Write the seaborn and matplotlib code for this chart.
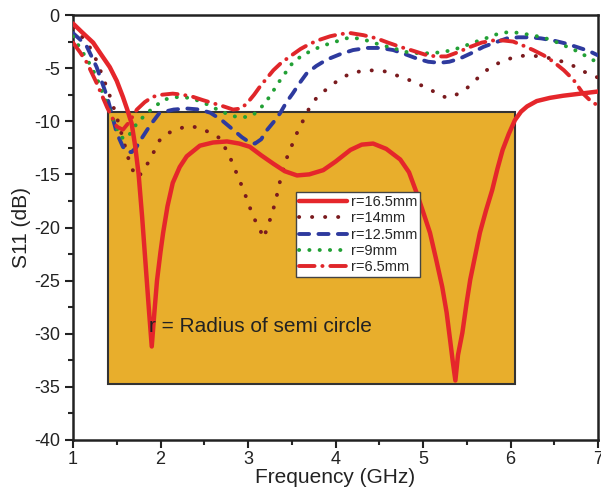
import matplotlib
matplotlib.use("Agg")
import matplotlib.pyplot as plt
import seaborn as sns
from matplotlib.patches import Rectangle

sns.set_theme(style="white")
plt.rcParams['font.family'] = ['Liberation Sans', 'DejaVu Sans']
plt.rcParams['axes.unicode_minus'] = False

# r = 16.5 mm (solid red)
f_165 = [1.00, 1.10, 1.23, 1.32, 1.42, 1.50, 1.57, 1.62, 1.67, 1.71, 1.75, 1.79, 1.83, 1.87, 1.90,
         1.93, 1.96, 2.00, 2.03, 2.08, 2.14, 2.22, 2.30, 2.45, 2.60, 2.76, 2.90, 3.02, 3.15, 3.29,
         3.42, 3.56, 3.70, 3.86, 4.00, 4.17, 4.30, 4.43, 4.58, 4.74, 4.84, 4.93, 5.00, 5.08, 5.15,
         5.22, 5.27, 5.31, 5.34, 5.37, 5.40, 5.45, 5.50, 5.54, 5.60, 5.65, 5.72, 5.79, 5.85, 5.91,
         5.98, 6.05, 6.12, 6.19, 6.30, 6.45, 6.60, 6.80, 7.00]
s_165 = [-0.8, -1.6, -2.6, -3.7, -4.9, -6.2, -7.7, -8.9, -10.2, -12.3, -15.0, -19.0, -23.5, -28.0, -31.2,
         -28.0, -25.0, -22.3, -20.5, -18.0, -15.8, -14.3, -13.3, -12.3, -12.0, -11.9, -12.1, -12.4, -13.2, -14.0,
         -14.7, -15.1, -15.0, -14.6, -13.8, -12.7, -12.2, -12.1, -12.6, -13.6, -14.8, -16.8, -18.5, -20.5, -23.0,
         -25.6, -28.0, -30.6, -32.6, -34.4, -32.0, -29.9, -27.0, -24.9, -22.5, -20.5, -18.4, -16.5, -14.5, -12.7,
         -11.2, -9.9, -9.1, -8.6, -8.1, -7.8, -7.6, -7.4, -7.2]

# r = 14 mm (maroon dotted)
f_14 = [1.00, 1.05, 1.12, 1.19, 1.27, 1.34, 1.42, 1.50, 1.58, 1.65, 1.70, 1.74, 1.80, 1.88, 1.99,
        2.09, 2.19, 2.28, 2.37, 2.47, 2.57, 2.68, 2.79, 2.87, 2.94, 2.99, 3.06, 3.14, 3.17, 3.20,
        3.25, 3.31, 3.37, 3.45, 3.56, 3.71, 3.82, 3.90, 4.05, 4.20, 4.39, 4.56, 4.74, 4.90, 5.05,
        5.17, 5.27, 5.38, 5.50, 5.63, 5.77, 5.92, 6.07, 6.20, 6.34, 6.47, 6.60, 6.72, 6.83, 6.92, 7.00]
s_14 = [-1.2, -1.6, -2.2, -3.0, -4.3, -5.8, -7.6, -9.6, -11.9, -14.0, -14.9, -15.3, -14.7, -13.6, -11.8,
        -11.1, -10.8, -10.5, -10.5, -10.7, -11.1, -11.6, -13.3, -14.9, -16.3, -17.4, -19.0, -20.2, -21.0, -20.5,
        -19.3, -17.7, -15.5, -13.3, -11.1, -8.6, -7.4, -7.0, -6.0, -5.4, -5.2, -5.3, -5.8, -6.3, -6.9,
        -7.4, -7.8, -7.5, -6.9, -5.9, -4.9, -4.3, -3.9, -3.8, -3.9, -4.1, -4.4, -4.8, -5.3, -5.6, -5.9]

# r = 12.5 mm (blue dashed)
f_125 = [1.00, 1.08, 1.16, 1.27, 1.39, 1.50, 1.57, 1.62, 1.67, 1.72, 1.77, 1.88, 1.99, 2.15, 2.30,
         2.45, 2.57, 2.70, 2.83, 2.93, 3.02, 3.08, 3.15, 3.22, 3.30, 3.37, 3.44, 3.51, 3.59, 3.67,
         3.78, 3.90, 4.05, 4.20, 4.36, 4.51, 4.66, 4.80, 4.93, 5.06, 5.19, 5.30, 5.42, 5.55, 5.69,
         5.82, 5.96, 6.09, 6.22, 6.35, 6.49, 6.64, 6.79, 6.90, 7.00]
s_125 = [-1.7, -2.3, -3.0, -4.9, -7.7, -11.1, -12.4, -12.9, -12.9, -12.5, -11.8, -10.4, -9.2, -8.9, -8.8,
         -8.9, -9.2, -9.9, -10.8, -11.5, -12.0, -12.1, -11.7, -10.8, -10.0, -9.2, -8.2, -7.4, -6.4, -5.5,
         -4.8, -4.2, -3.7, -3.3, -3.1, -3.1, -3.3, -3.7, -4.1, -4.4, -4.5, -4.4, -4.1, -3.6, -3.0,
         -2.6, -2.2, -2.1, -2.1, -2.2, -2.4, -2.7, -3.1, -3.4, -3.8]

# r = 9 mm (green dotted)
f_9 = [1.00, 1.05, 1.11, 1.17, 1.23, 1.29, 1.34, 1.40, 1.46, 1.54, 1.59, 1.65, 1.73, 1.85, 2.03,
       2.12, 2.22, 2.32, 2.41, 2.53, 2.65, 2.76, 2.87, 2.97, 3.06, 3.14, 3.22, 3.30, 3.37, 3.44,
       3.51, 3.62, 3.74, 3.85, 3.97, 4.08, 4.17, 4.32, 4.47, 4.65, 4.82, 4.95, 5.08, 5.21, 5.34,
       5.48, 5.61, 5.75, 5.88, 6.00, 6.11, 6.24, 6.37, 6.51, 6.65, 6.76, 6.87, 7.00]
s_9 = [-2.0, -2.7, -3.5, -4.3, -5.2, -6.3, -7.4, -8.6, -9.9, -11.4, -11.7, -11.2, -10.2, -9.2, -8.0,
       -7.8, -7.7, -7.8, -8.0, -8.4, -8.9, -9.3, -9.6, -9.6, -9.4, -8.8, -8.0, -7.0, -6.1, -5.3,
       -4.5, -3.8, -3.3, -2.9, -2.6, -2.3, -2.1, -2.3, -2.7, -3.1, -3.5, -3.6, -3.6, -3.5, -3.3,
       -2.9, -2.5, -2.1, -1.7, -1.6, -1.7, -1.9, -2.1, -2.5, -3.0, -3.4, -3.9, -4.5]

# r = 6.5 mm (red dash-dot)
f_65 = [1.00, 1.08, 1.16, 1.27, 1.39, 1.50, 1.57, 1.64, 1.73, 1.82, 1.91, 2.02, 2.14, 2.25, 2.37,
        2.48, 2.60, 2.72, 2.83, 2.92, 2.99, 3.07, 3.14, 3.22, 3.29, 3.38, 3.48, 3.60, 3.71, 3.83,
        3.94, 4.05, 4.17, 4.32, 4.47, 4.60, 4.74, 4.90, 5.05, 5.16, 5.27, 5.40, 5.54, 5.67, 5.80,
        5.92, 6.03, 6.15, 6.26, 6.38, 6.49, 6.61, 6.72, 6.83, 6.93, 7.00]
s_65 = [-2.6, -3.5, -4.5, -6.4, -8.7, -10.5, -10.8, -10.1, -8.9, -8.2, -7.7, -7.5, -7.4, -7.5, -7.7,
        -8.0, -8.3, -8.6, -8.9, -8.8, -8.3, -7.5, -6.7, -5.9, -5.2, -4.5, -3.9, -3.2, -2.7, -2.3,
        -2.0, -1.8, -1.7, -1.9, -2.2, -2.6, -3.0, -3.4, -3.8, -3.9, -3.9, -3.5, -3.0, -2.6, -2.4,
        -2.4, -2.5, -2.9, -3.3, -3.8, -4.4, -5.2, -6.1, -7.4, -8.2, -8.5]

labels = ["r=16.5mm", "r=14mm", "r=12.5mm", "r=9mm", "r=6.5mm"]

fig = plt.figure(figsize=(6.01, 4.92), dpi=100)
ax = fig.add_axes([73/601, 1-440/492, 525/601, 425/492])

# gold band (highlight region)
ax.add_patch(Rectangle((1.4, -34.7), 4.65, 25.6, facecolor='#e8ae2c', edgecolor='#333333',
                       linewidth=1.5, zorder=1))

lw = 2.8
sns.lineplot(x=f_165, y=s_165, ax=ax, color='#e5262b', linewidth=3.2, label=labels[0],
             solid_capstyle='round', solid_joinstyle='round', zorder=5)
sns.lineplot(x=f_14, y=s_14, ax=ax, color='#7a1a1e', linewidth=lw, label=labels[1],
             linestyle=(0, (0.05, 3.3)), dash_capstyle='round', zorder=4)
sns.lineplot(x=f_125, y=s_125, ax=ax, color='#2e3a9e', linewidth=lw, label=labels[2],
             linestyle=(0, (2.6, 2.4)), dash_capstyle='round', zorder=4)
sns.lineplot(x=f_9, y=s_9, ax=ax, color='#22a035', linewidth=lw, label=labels[3],
             linestyle=(0, (0.05, 2.6)), dash_capstyle='round', zorder=4)
sns.lineplot(x=f_65, y=s_65, ax=ax, color='#e0262a', linewidth=lw, label=labels[4],
             linestyle=(0, (4.0, 2.0, 0.05, 2.0)), dash_capstyle='round', zorder=4)

ax.text(3.14, -29.3, "r = Radius of semi circle", fontsize=15, ha='center', va='center',
        color='#222222', zorder=6)

ax.set_xlim(1, 7)
ax.set_ylim(-40, 0)
ax.set_xticks([1, 2, 3, 4, 5, 6, 7])
ax.set_yticks([0, -5, -10, -15, -20, -25, -30, -35, -40])
ax.set_xticks([1.5, 2.5, 3.5, 4.5, 5.5, 6.5], minor=True)
ax.set_yticks([-2.5, -7.5, -12.5, -17.5, -22.5, -27.5, -32.5, -37.5], minor=True)
ax.tick_params(axis='both', which='major', direction='out', length=6, width=1.5,
               labelsize=13, colors='#222222', bottom=True, left=True, top=False, right=False)
ax.tick_params(axis='x', which='major', pad=2)
ax.tick_params(axis='both', which='minor', direction='out', length=3.5, width=1.5,
               bottom=True, left=True, top=False, right=False)
for sp in ax.spines.values():
    sp.set_visible(True)
    sp.set_color('#222222')
    sp.set_linewidth(1.8)

ax.set_xlabel("Frequency (GHz)", fontsize=15, color='#222222', labelpad=0)
ax.set_ylabel("S11 (dB)", fontsize=15, color='#222222', labelpad=2)

leg = ax.legend(loc='upper left', bbox_to_anchor=(0.425, 0.583), fontsize=10.5,
                frameon=True, fancybox=False, framealpha=1, edgecolor='#444444',
                handlelength=3.3, handletextpad=0.25, labelspacing=0.16, borderpad=0.2,
                borderaxespad=0)
leg.get_frame().set_linewidth(1.0)
leg.set_zorder(7)

fig.savefig("out.png", dpi=100)
